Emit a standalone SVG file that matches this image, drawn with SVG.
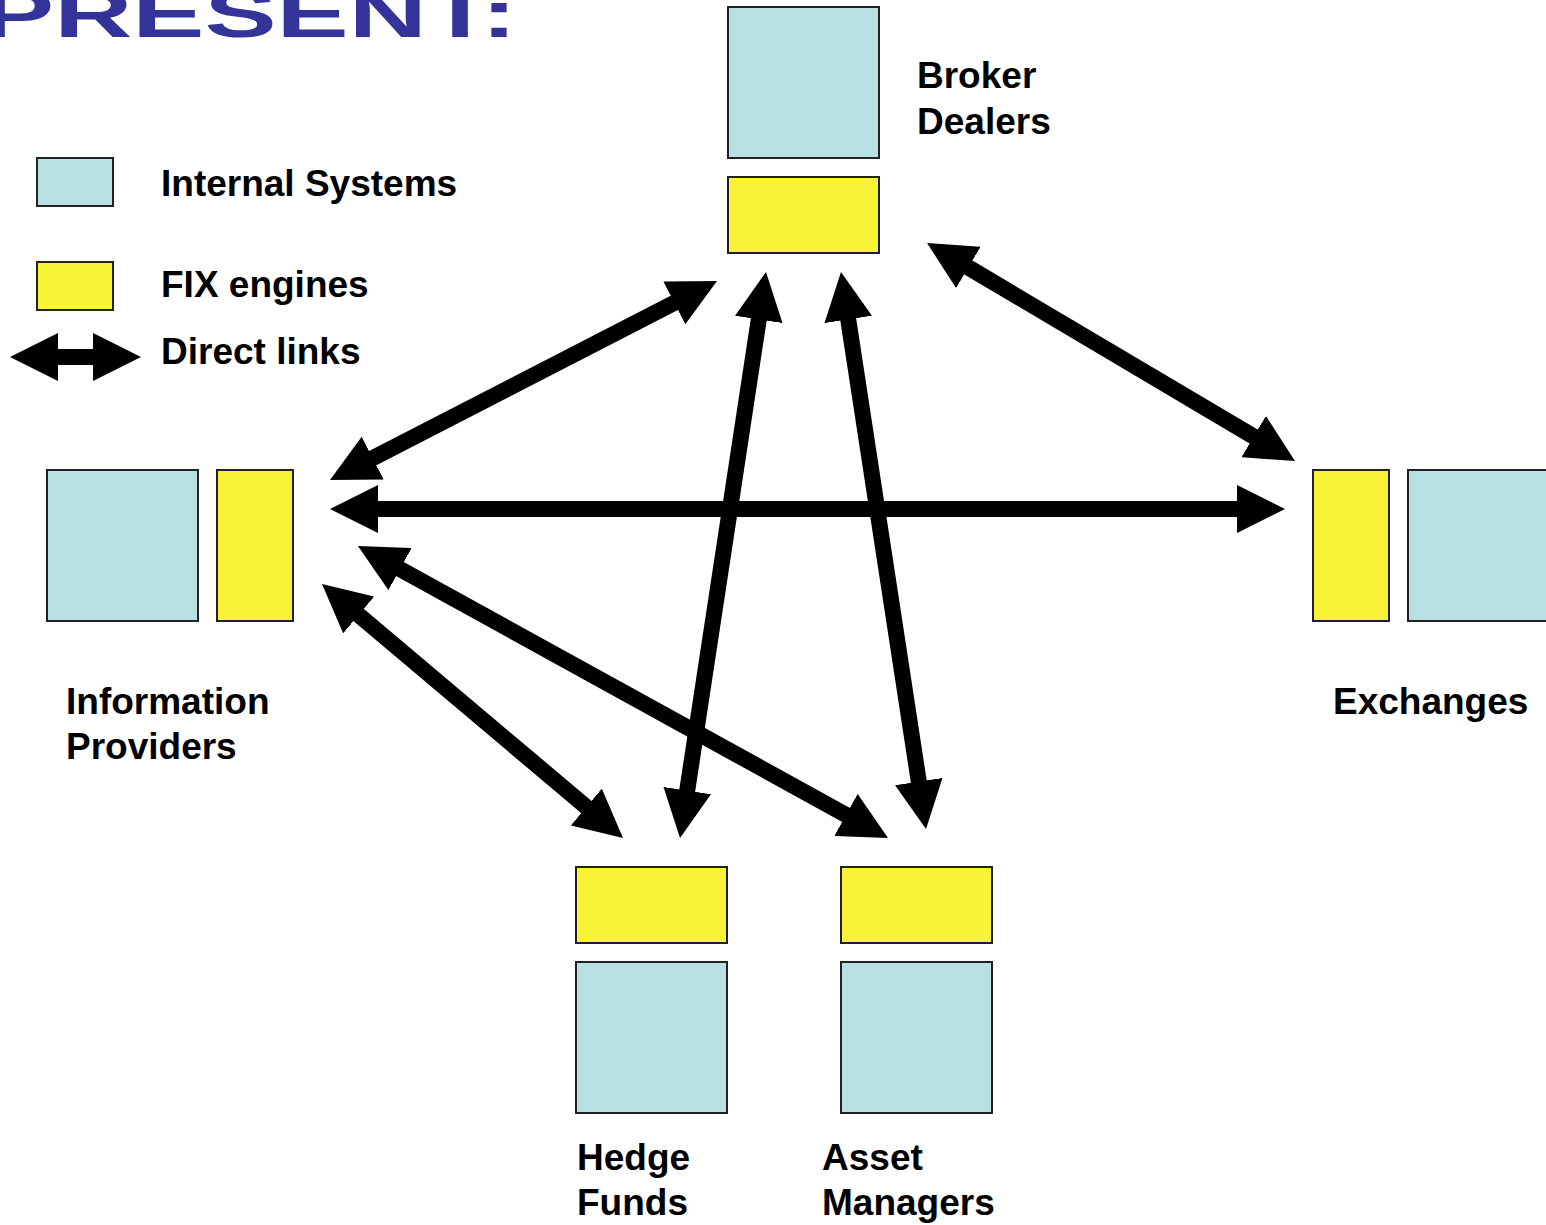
<svg xmlns="http://www.w3.org/2000/svg" width="1546" height="1225" viewBox="0 0 1546 1225">
<style>
.sys{fill:#b9e0e2;stroke:#222;stroke-width:2}
.fix{fill:#f8f337;stroke:#222;stroke-width:2}
.lbl{font-family:"Liberation Sans",Arial,sans-serif;font-weight:bold;font-size:37px;fill:#000}
.link{stroke:#000;stroke-width:16;fill:none;marker-start:url(#head);marker-end:url(#head)}
</style>
<defs>
<marker id="head" viewBox="0 0 3 3" markerWidth="3" markerHeight="3" refX="0.3" refY="1.5" orient="auto-start-reverse" markerUnits="strokeWidth">
<path d="M0,0 L3,1.5 L0,3 z" fill="#000"/>
</marker>
</defs>
<rect width="1546" height="1225" fill="#fff"/>
<text x="-18" y="37" textLength="535" lengthAdjust="spacingAndGlyphs" style="font-family:'Liberation Sans',Arial,sans-serif;font-weight:bold;font-size:66px;fill:#333399">PRESENT:</text>

<g id="legend">
<rect class="sys" x="37" y="158" width="76" height="48"/>
<text class="lbl" x="161" y="196">Internal Systems</text>
<rect class="fix" x="37" y="262" width="76" height="48"/>
<text class="lbl" x="161" y="297">FIX engines</text>
<line class="link" x1="53.2" y1="357" x2="97.8" y2="357"/>
<text class="lbl" x="161" y="364">Direct links</text>
</g>

<g id="broker-dealers">
<rect class="sys" x="728" y="7" width="151" height="151"/>
<rect class="fix" x="728" y="177" width="151" height="76"/>
<text class="lbl" x="917" y="88">Broker</text>
<text class="lbl" x="917" y="134">Dealers</text>
</g>

<g id="information-providers">
<rect class="sys" x="47" y="470" width="151" height="151"/>
<rect class="fix" x="217" y="470" width="76" height="151"/>
<text class="lbl" x="66" y="714">Information</text>
<text class="lbl" x="66" y="759">Providers</text>
</g>

<g id="exchanges">
<rect class="fix" x="1313" y="470" width="76" height="151"/>
<rect class="sys" x="1408" y="470" width="151" height="151"/>
<text class="lbl" x="1333" y="714">Exchanges</text>
</g>

<g id="hedge-funds">
<rect class="fix" x="576" y="867" width="151" height="76"/>
<rect class="sys" x="576" y="962" width="151" height="151"/>
<text class="lbl" x="577" y="1170">Hedge</text>
<text class="lbl" x="577" y="1215">Funds</text>
</g>

<g id="asset-managers">
<rect class="fix" x="841" y="867" width="151" height="76"/>
<rect class="sys" x="841" y="962" width="151" height="151"/>
<text class="lbl" x="822" y="1170">Asset</text>
<text class="lbl" x="822" y="1215">Managers</text>
</g>

<g id="connectors">
<line class="link" x1="368.4" y1="460.3" x2="678.6" y2="300.7"/>
<line class="link" x1="373.2" y1="509" x2="1241.8" y2="509"/>
<line class="link" x1="964.2" y1="265.0" x2="1257.8" y2="439.0"/>
<line class="link" x1="759.5" y1="314.7" x2="686.5" y2="795.3"/>
<line class="link" x1="847.5" y1="314.7" x2="919.5" y2="786.3"/>
<line class="link" x1="355.0" y1="611.9" x2="590.0" y2="810.1"/>
<line class="link" x1="395.8" y1="566.8" x2="850.2" y2="817.2"/>
</g>
</svg>
